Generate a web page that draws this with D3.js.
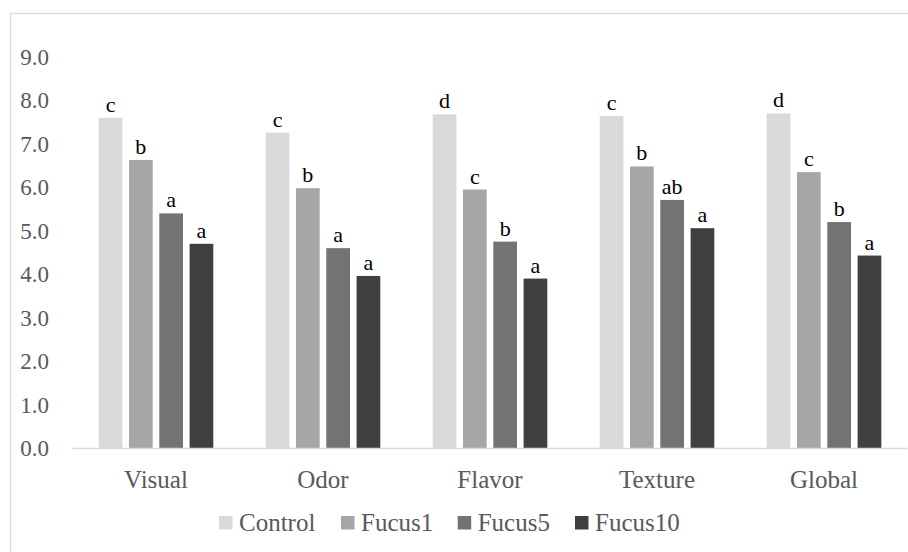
<!DOCTYPE html>
<html>
<head>
<meta charset="utf-8">
<script src="https://cdn.jsdelivr.net/npm/d3@7"></script>
<style>
  html, body { margin: 0; padding: 0; background: #fff; }
  svg { display: block; }
</style>
</head>
<body>
<svg id="chart" width="908" height="552"></svg>
<script>
const categories = ["Visual", "Odor", "Flavor", "Texture", "Global"];
const seriesNames = ["Control", "Fucus1", "Fucus5", "Fucus10"];
const control = [7.60, 7.26, 7.68, 7.64, 7.70];
const fucus1  = [6.63, 5.98, 5.95, 6.48, 6.35];
const fucus5  = [5.40, 4.60, 4.75, 5.71, 5.20];
const fucus10 = [4.70, 3.96, 3.90, 5.06, 4.43];
const letterControl = ["c", "c", "d", "c", "d"];
const letterFucus1  = ["b", "b", "c", "b", "c"];
const letterFucus5  = ["a", "a", "b", "ab", "b"];
const letterFucus10 = ["a", "a", "a", "a", "a"];
const yTicks = [0, 1, 2, 3, 4, 5, 6, 7, 8, 9];
const colors = ["#d9d9d9", "#a6a6a6", "#737373", "#404040"];

const seriesValues = [control, fucus1, fucus5, fucus10];
const seriesLetters = [letterControl, letterFucus1, letterFucus5, letterFucus10];

const svg = d3.select("#chart");
const FONT = "Liberation Serif, serif";

// outer frame (partly cropped)
svg.append("rect")
  .attr("x", 10.5).attr("y", 13.5)
  .attr("width", 920).attr("height", 560)
  .attr("fill", "none").attr("stroke", "#d9d9d9").attr("stroke-width", 1.3);

const x0 = d3.scaleBand().domain(categories).range([72.5, 907.5]).padding(0);
const x1 = d3.scaleBand().domain(seriesNames).range([26.2, 140.8]).paddingInner(0.218).paddingOuter(0);
const y = d3.scaleLinear().domain([0, 9]).range([448, 57]);

// y tick labels
svg.append("g")
  .selectAll("text")
  .data(yTicks)
  .join("text")
  .attr("x", 49)
  .attr("y", d => y(d))
  .attr("dy", "0.35em")
  .attr("text-anchor", "end")
  .attr("font-family", FONT)
  .attr("font-size", 23)
  .attr("fill", "#595959")
  .text(d => d.toFixed(1));

// bars
const data = [];
categories.forEach((c, i) => {
  seriesNames.forEach((s, j) => {
    data.push({ cat: c, series: s, value: seriesValues[j][i], letter: seriesLetters[j][i], color: colors[j] });
  });
});

const g = svg.append("g");
g.selectAll("rect")
  .data(data)
  .join("rect")
  .attr("x", d => x0(d.cat) + x1(d.series))
  .attr("y", d => y(d.value))
  .attr("width", x1.bandwidth())
  .attr("height", d => y(0) - y(d.value))
  .attr("fill", d => d.color);

g.selectAll("text")
  .data(data)
  .join("text")
  .attr("x", d => x0(d.cat) + x1(d.series) + x1.bandwidth() / 2)
  .attr("y", d => y(d.value) - 6)
  .attr("text-anchor", "middle")
  .attr("font-family", FONT)
  .attr("font-size", 22)
  .attr("fill", "#000")
  .text(d => d.letter);

// x axis line
svg.append("line")
  .attr("x1", 72.5).attr("x2", 907.5)
  .attr("y1", y(0) + 0.5).attr("y2", y(0) + 0.5)
  .attr("stroke", "#d9d9d9").attr("stroke-width", 1.3);

// category labels
svg.append("g")
  .selectAll("text")
  .data(categories)
  .join("text")
  .attr("x", d => x0(d) + x0.bandwidth() / 2)
  .attr("y", 488)
  .attr("text-anchor", "middle")
  .attr("font-family", FONT)
  .attr("font-size", 25)
  .attr("fill", "#595959")
  .text(d => d);

// legend
const legendX = [219, 341, 457.7, 575];
const leg = svg.append("g");
seriesNames.forEach((s, j) => {
  leg.append("rect")
    .attr("x", legendX[j]).attr("y", 516)
    .attr("width", 13.5).attr("height", 13.5)
    .attr("fill", colors[j]);
  leg.append("text")
    .attr("x", legendX[j] + 20)
    .attr("y", 530.5)
    .attr("font-family", FONT)
    .attr("font-size", 25)
    .attr("fill", "#595959")
    .text(s);
});
</script>
</body>
</html>
